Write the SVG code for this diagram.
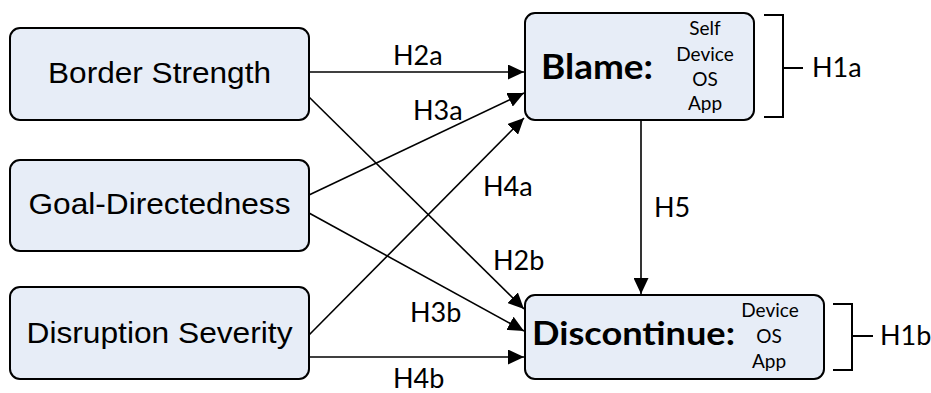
<svg xmlns="http://www.w3.org/2000/svg" width="931" height="393" viewBox="0 0 931 393">
<style>
.box{fill:#E7EDF7;stroke:#000;stroke-width:2}
.lt{font-family:"Liberation Sans",Arial,sans-serif;font-size:30px;fill:#000;text-anchor:middle}
.lb{font-family:Lato,"Open Sans",sans-serif;font-size:27px;fill:#000}
.big{font-family:Lato,"Open Sans",sans-serif;font-weight:bold;fill:#000}
.sm{font-family:Lato,"Open Sans",sans-serif;font-size:19px;fill:#000;text-anchor:middle}
.con{stroke:#000;stroke-width:1.6;fill:none}
.br{stroke:#000;stroke-width:2;fill:none}
</style>
<defs>
<marker id="ah" viewBox="0 0 16 15" refX="16" refY="7.5" markerWidth="16" markerHeight="15" markerUnits="userSpaceOnUse" orient="auto">
<path d="M0,0 L16,7.5 L0,15 z" fill="#000"/>
</marker>
</defs>
<rect width="931" height="393" fill="#fff"/>
<g id="connectors">
<path class="con" d="M309,72 L524,72" marker-end="url(#ah)"/>
<path class="con" d="M309,97 L524,309" marker-end="url(#ah)"/>
<path class="con" d="M309,195 L524,93" marker-end="url(#ah)"/>
<path class="con" d="M309,213 L524,331" marker-end="url(#ah)"/>
<path class="con" d="M309,335 L524,118" marker-end="url(#ah)"/>
<path class="con" d="M309,357 L524,357" marker-end="url(#ah)"/>
<path class="con" d="M641,120 L641,294" marker-end="url(#ah)"/>
<text class="lb" x="393" y="65">H2a</text>
<text class="lb" x="413" y="120">H3a</text>
<text class="lb" x="483" y="196">H4a</text>
<text class="lb" x="493" y="270">H2b</text>
<text class="lb" x="410" y="322">H3b</text>
<text class="lb" x="393" y="388">H4b</text>
<text class="lb" x="654" y="217">H5</text>
</g>
<g id="border-strength">
<rect class="box" x="10" y="28" width="299" height="92" rx="10"/>
<text class="lt" x="159.5" y="83" textLength="223" lengthAdjust="spacingAndGlyphs">Border Strength</text>
</g>
<g id="goal-directedness">
<rect class="box" x="10" y="160" width="299" height="91" rx="10"/>
<text class="lt" x="159.5" y="214" textLength="262" lengthAdjust="spacingAndGlyphs">Goal-Directedness</text>
</g>
<g id="disruption-severity">
<rect class="box" x="10" y="287" width="299" height="92" rx="10"/>
<text class="lt" x="159.5" y="343" textLength="266" lengthAdjust="spacingAndGlyphs">Disruption Severity</text>
</g>
<g id="blame">
<rect class="box" x="525" y="13" width="229" height="107" rx="10"/>
<text class="big" x="541" y="79" font-size="35" textLength="112" lengthAdjust="spacingAndGlyphs">Blame:</text>
<text class="sm" x="705" y="35">Self</text>
<text class="sm" x="705" y="61">Device</text>
<text class="sm" x="705" y="86">OS</text>
<text class="sm" x="705" y="110">App</text>
</g>
<g id="discontinue">
<rect class="box" x="525" y="295" width="299" height="84" rx="10"/>
<text class="big" x="532" y="345" font-size="33" textLength="203" lengthAdjust="spacingAndGlyphs">Discontinue:</text>
<text class="sm" x="770" y="317">Device</text>
<text class="sm" x="769" y="343">OS</text>
<text class="sm" x="769" y="368">App</text>
</g>
<g id="h1a">
<path class="br" d="M764,15 L783,15 L783,117 L764,117 M783,68 L803,68"/>
<text class="lb" x="812" y="77">H1a</text>
</g>
<g id="h1b">
<path class="br" d="M833,304 L852,304 L852,370 L833,370 M852,336 L873,336"/>
<text class="lb" x="880" y="345">H1b</text>
</g>
</svg>
